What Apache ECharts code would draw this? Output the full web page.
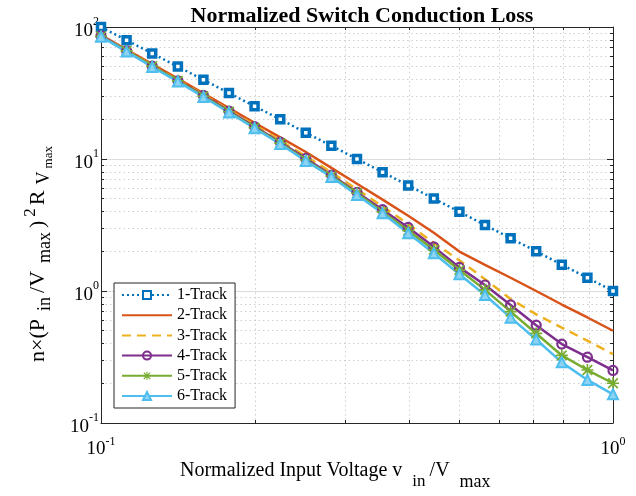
<!DOCTYPE html>
<html><head><meta charset="utf-8">
<script src="https://cdn.jsdelivr.net/npm/echarts@6/dist/echarts.min.js"></script>
<style>html,body{margin:0;padding:0;background:#fff}#c{width:636px;height:496px}</style>
</head><body><div id="c"></div>
<script>
// x values (normalized input voltage)
const xValues = [0.1, 0.1122, 0.1259, 0.1413, 0.1585, 0.1778, 0.1995, 0.2239, 0.2512, 0.2818, 0.3162, 0.3548, 0.3981, 0.4467, 0.5012, 0.5623, 0.6310, 0.7079, 0.7943, 0.8913, 1.0];
const track1 = [100, 79.4, 63.1, 50.1, 39.8, 31.6, 25.1, 20.0, 15.8, 12.6, 10.0, 7.94, 6.31, 5.01, 3.98, 3.16, 2.51, 2.0, 1.58, 1.26, 1.0];
const track2 = [87, 67.5, 52.4, 40.6, 31.5, 24.3, 18.8, 14.6, 11.3, 8.56, 6.5, 4.92, 3.72, 2.76, 1.99, 1.58, 1.26, 1.0, 0.79, 0.63, 0.5];
const track3 = [86, 66.7, 51.1, 39.6, 30.7, 23.4, 18.1, 13.8, 10.5, 7.93, 5.9, 4.37, 3.22, 2.31, 1.71, 1.23, 0.87, 0.665, 0.528, 0.42, 0.333];
const track4 = [86, 65.9, 50.5, 39.1, 30.3, 23.1, 17.6, 13.4, 10.1, 7.55, 5.6, 4.13, 3.03, 2.16, 1.51, 1.11, 0.784, 0.551, 0.396, 0.315, 0.25];
const track5 = [85, 65.9, 50.5, 39.1, 29.9, 22.8, 17.3, 13.2, 9.83, 7.43, 5.5, 3.97, 2.87, 2.05, 1.44, 1.02, 0.698, 0.477, 0.325, 0.252, 0.2];
const track6 = [84.5, 65.1, 49.8, 38.6, 29.5, 22.5, 17.1, 13.0, 9.67, 7.3, 5.34, 3.88, 2.74, 1.93, 1.34, 0.933, 0.628, 0.429, 0.288, 0.212, 0.165];
const seriesNames = ['1-Track', '2-Track', '3-Track', '4-Track', '5-Track', '6-Track'];
const titleText = 'Normalized Switch Conduction Loss';

const FONT = 'Liberation Serif';
const AX = '#262626';
const pair = (ys) => xValues.map((x, i) => [x, ys[i]]);
const asterisk = 'path://M0 8.6L20 8.6L20 11.4L0 11.4Z M8.6 0L11.4 0L11.4 20L8.6 20Z M1 3L3 1L19 17L17 19Z M17 1L19 3L3 19L1 17Z';

const chart = echarts.init(document.getElementById('c'), null, {renderer: 'canvas'});

const expLabel = (v) => '{b|10}{s|' + Math.round(Math.log10(v)) + '}';

const baseAxis = {
  type: 'log', logBase: 10,
  axisLine: {show: true, onZero: false, lineStyle: {color: AX, width: 1}},
  axisTick: {show: true, inside: true, length: 6, lineStyle: {color: AX}},
  minorTick: {show: true, splitNumber: 9, length: 3, lineStyle: {color: AX}},
};

const option = {
  animation: false,
  backgroundColor: '#fff',
  title: {
    text: titleText, left: 357, top: 0, textAlign: 'center',
    textStyle: {fontFamily: FONT, fontSize: 22, fontWeight: 'bold', color: '#000'}
  },
  grid: {left: 101, top: 27, width: 512, height: 396, containLabel: false},
  legend: {
    orient: 'vertical', left: 114, top: 283,
    itemWidth: 50, itemHeight: 10, itemGap: 4.2,
    padding: [4, 8, 4, 7],
    backgroundColor: '#fff', borderColor: AX, borderWidth: 1, borderRadius: 0,
    textStyle: {fontFamily: FONT, fontSize: 16, color: '#000'},
    data: seriesNames
  },
  xAxis: [
    Object.assign({}, baseAxis, {
      position: 'bottom', min: 0.1, max: 1, interval: 1,
      axisLabel: {
        margin: 11, formatter: expLabel,
        rich: {
          b: {fontFamily: FONT, fontSize: 19, color: '#000', padding: [6, 0, 0, 0]},
          s: {fontFamily: FONT, fontSize: 12, color: '#000', padding: [0, 0, 10, 0]}
        }
      },
      splitLine: {show: true, lineStyle: {color: '#dcdcdc', width: 1}},
      minorSplitLine: {show: true, lineStyle: {color: '#cfcfcf', width: 1, type: [1.5, 3]}}
    }),
    Object.assign({}, baseAxis, {
      position: 'top', min: 0.1, max: 1, interval: 1,
      axisLabel: {show: false}, splitLine: {show: false}, minorSplitLine: {show: false}
    })
  ],
  yAxis: [
    Object.assign({}, baseAxis, {
      position: 'left', min: 0.1, max: 100, interval: 1,
      axisLabel: {
        margin: 2, formatter: expLabel,
        rich: {
          b: {fontFamily: FONT, fontSize: 19, color: '#000', padding: [8, 0, 0, 0]},
          s: {fontFamily: FONT, fontSize: 12, color: '#000', padding: [0, 0, 10, 0]}
        }
      },
      splitLine: {show: true, lineStyle: {color: '#dcdcdc', width: 1}},
      minorSplitLine: {show: true, lineStyle: {color: '#cfcfcf', width: 1, type: [1.5, 3]}}
    }),
    Object.assign({}, baseAxis, {
      position: 'right', min: 0.1, max: 100, interval: 1,
      axisLabel: {show: false}, splitLine: {show: false}, minorSplitLine: {show: false}
    })
  ],
  graphic: [
    {
      type: 'text', left: 180, top: 461,
      style: {
        text: '{n|Normalized Input Voltage v}{sb|in}{n|/V}{sm|max}',
        rich: {
          n: {fontFamily: FONT, fontSize: 20, fill: '#000', color: '#000'},
          sb: {fontFamily: FONT, fontSize: 17, fill: '#000', color: '#000', padding: [22, 4, 0, 10]},
          sm: {fontFamily: FONT, fontSize: 18, fill: '#000', color: '#000', padding: [22, 0, 0, 10]}
        }
      }
    },
    {
      type: 'text', x: 38, y: 254, rotation: Math.PI / 2,
      style: {
        text: '{n|n×(P}{sb|in}{n|/V}{sb|max}{n|)}{sp|2}{n|R}{sv|V}{ss|max}',
        align: 'center', verticalAlign: 'middle', textAlign: 'center', textVerticalAlign: 'middle',
        rich: {
          n: {fontFamily: FONT, fontSize: 22, fill: '#000', color: '#000'},
          sb: {fontFamily: FONT, fontSize: 18, fill: '#000', color: '#000', padding: [15, 4, 0, 8]},
          sp: {fontFamily: FONT, fontSize: 17, fill: '#000', color: '#000', padding: [0, 3, 15, 4]},
          sv: {fontFamily: FONT, fontSize: 18, fill: '#000', color: '#000', padding: [12, 1, 0, 6]},
          ss: {fontFamily: FONT, fontSize: 13, fill: '#000', color: '#000', padding: [22, 0, 0, 2]}
        }
      }
    }
  ],
  series: [
    {
      name: seriesNames[0], type: 'line', data: pair(track1),
      symbol: 'rect', symbolSize: 7,
      itemStyle: {color: '#ffffff', borderColor: '#0072BD', borderWidth: 3.5},
      lineStyle: {color: '#0072BD', width: 2.5, type: [2, 3]}
    },
    {
      name: seriesNames[1], type: 'line', data: pair(track2),
      symbol: 'none', showSymbol: false,
      itemStyle: {color: '#D95319', opacity: 0},
      lineStyle: {color: '#D95319', width: 2.5}
    },
    {
      name: seriesNames[2], type: 'line', data: pair(track3),
      symbol: 'none', showSymbol: false,
      itemStyle: {color: '#EDB120', opacity: 0},
      lineStyle: {color: '#EDB120', width: 2.5, type: [9, 6]}
    },
    {
      name: seriesNames[3], type: 'line', data: pair(track4),
      symbol: 'circle', symbolSize: 9,
      itemStyle: {color: 'rgba(255,255,255,0)', borderColor: '#7E2F8E', borderWidth: 2.2},
      lineStyle: {color: '#7E2F8E', width: 2.5}
    },
    {
      name: seriesNames[4], type: 'line', data: pair(track5),
      symbol: asterisk, symbolSize: 12,
      itemStyle: {color: '#77AC30', borderWidth: 0},
      lineStyle: {color: '#77AC30', width: 2.5}
    },
    {
      name: seriesNames[5], type: 'line', data: pair(track6),
      symbol: 'triangle', symbolSize: 10,
      itemStyle: {color: '#8fd3f2', borderColor: '#4DBEEE', borderWidth: 2},
      lineStyle: {color: '#4DBEEE', width: 2.5}
    }
  ]
};
chart.setOption(option);
</script>
</body></html>
